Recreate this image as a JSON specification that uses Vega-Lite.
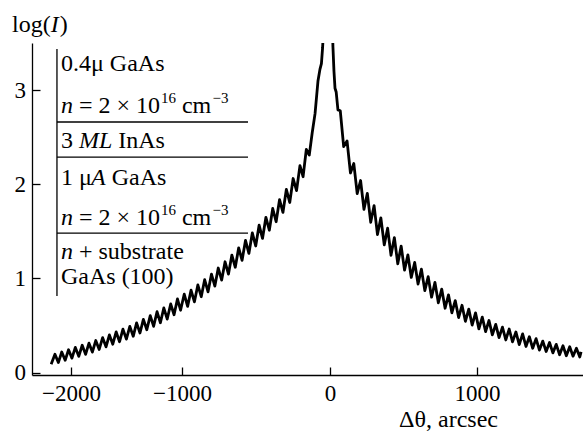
{
  "$schema": "https://vega.github.io/schema/vega-lite/v6.json",
  "width": 551,
  "height": 332,
  "autosize": {"type": "none"},
  "padding": {"left": 32, "top": 43, "right": 0, "bottom": 58},
  "background": "white",
  "config": {
    "view": {"stroke": null},
    "axis": {
      "grid": false,
      "domainColor": "black",
      "domainWidth": 1.3,
      "tickColor": "black",
      "tickWidth": 1.3,
      "labelColor": "black",
      "labelFont": "Liberation Serif",
      "labelFontSize": 23,
      "titleColor": "black",
      "titleFont": "Liberation Serif",
      "titleFontSize": 24,
      "titleFontWeight": "normal"
    },
    "text": {"font": "Liberation Serif", "fontSize": 24, "color": "black", "align": "left", "baseline": "alphabetic"}
  },
  "layer": [
    {
      "data": {"values": [
        {"x": -2178, "y": 0.09}, {"x": -2144, "y": 0.195}, {"x": -2113.5, "y": 0.107}, {"x": -2083, "y": 0.219},
        {"x": -2052.5, "y": 0.131}, {"x": -2022, "y": 0.243}, {"x": -1991.5, "y": 0.154}, {"x": -1961, "y": 0.268},
        {"x": -1930, "y": 0.173}, {"x": -1899, "y": 0.291}, {"x": -1868.5, "y": 0.194}, {"x": -1838, "y": 0.313},
        {"x": -1807.5, "y": 0.218}, {"x": -1777, "y": 0.341}, {"x": -1746, "y": 0.246}, {"x": -1715, "y": 0.371},
        {"x": -1684.5, "y": 0.274}, {"x": -1654, "y": 0.401}, {"x": -1623.5, "y": 0.302}, {"x": -1593, "y": 0.432},
        {"x": -1562.5, "y": 0.328}, {"x": -1532, "y": 0.461}, {"x": -1501, "y": 0.356}, {"x": -1470, "y": 0.491},
        {"x": -1439.5, "y": 0.386}, {"x": -1409, "y": 0.529}, {"x": -1378.5, "y": 0.421}, {"x": -1348, "y": 0.566},
        {"x": -1317, "y": 0.456}, {"x": -1286, "y": 0.605}, {"x": -1255.5, "y": 0.492}, {"x": -1225, "y": 0.647},
        {"x": -1194.5, "y": 0.53}, {"x": -1164, "y": 0.687}, {"x": -1133, "y": 0.569}, {"x": -1102, "y": 0.729},
        {"x": -1071.5, "y": 0.615}, {"x": -1041, "y": 0.782}, {"x": -1013, "y": 0.663}, {"x": -985, "y": 0.833},
        {"x": -962, "y": 0.704}, {"x": -939, "y": 0.875}, {"x": -916, "y": 0.752}, {"x": -893, "y": 0.931},
        {"x": -870, "y": 0.806}, {"x": -847, "y": 0.987}, {"x": -824, "y": 0.858}, {"x": -801, "y": 1.045},
        {"x": -778, "y": 0.919}, {"x": -755, "y": 1.111}, {"x": -732, "y": 0.983}, {"x": -709, "y": 1.177},
        {"x": -686, "y": 1.047}, {"x": -663, "y": 1.248}, {"x": -640, "y": 1.119}, {"x": -617, "y": 1.325},
        {"x": -594, "y": 1.193}, {"x": -571, "y": 1.404}, {"x": -548, "y": 1.266}, {"x": -525, "y": 1.483},
        {"x": -502, "y": 1.345}, {"x": -479, "y": 1.566}, {"x": -456, "y": 1.425}, {"x": -433, "y": 1.649},
        {"x": -410, "y": 1.512}, {"x": -387, "y": 1.743}, {"x": -364, "y": 1.602}, {"x": -341, "y": 1.836},
        {"x": -318, "y": 1.701}, {"x": -295, "y": 1.945}, {"x": -272, "y": 1.807}, {"x": -249, "y": 2.061},
        {"x": -226, "y": 1.932}, {"x": -203, "y": 2.198}, {"x": -182, "y": 2.08}, {"x": -160, "y": 2.37},
        {"x": -140, "y": 2.31}, {"x": -120, "y": 2.55}, {"x": -101, "y": 2.75}, {"x": -81, "y": 3.10},
        {"x": -68, "y": 3.22}, {"x": -58, "y": 3.28}, {"x": -50, "y": 3.45}, {"x": -44, "y": 3.64},
        {"x": -14, "y": 4.6}, {"x": 14, "y": 3.8}, {"x": 20, "y": 3.46}, {"x": 27, "y": 3.2},
        {"x": 34, "y": 3.02}, {"x": 42, "y": 2.98}, {"x": 54, "y": 2.79}, {"x": 70, "y": 2.78},
        {"x": 93, "y": 2.40}, {"x": 116, "y": 2.46}, {"x": 139, "y": 2.12}, {"x": 162, "y": 2.22},
        {"x": 185, "y": 1.90}, {"x": 208, "y": 2.04}, {"x": 231, "y": 1.733}, {"x": 254, "y": 1.904},
        {"x": 277, "y": 1.596}, {"x": 300, "y": 1.774}, {"x": 323, "y": 1.466}, {"x": 346, "y": 1.644},
        {"x": 369, "y": 1.356}, {"x": 392, "y": 1.534}, {"x": 415, "y": 1.246}, {"x": 438, "y": 1.434},
        {"x": 461, "y": 1.156}, {"x": 484, "y": 1.344}, {"x": 507, "y": 1.089}, {"x": 530, "y": 1.25},
        {"x": 553, "y": 1.011}, {"x": 576, "y": 1.17}, {"x": 599, "y": 0.941}, {"x": 622, "y": 1.099},
        {"x": 645, "y": 0.871}, {"x": 668, "y": 1.019}, {"x": 691, "y": 0.801}, {"x": 714, "y": 0.958},
        {"x": 737, "y": 0.742}, {"x": 760, "y": 0.887}, {"x": 783, "y": 0.684}, {"x": 806, "y": 0.826},
        {"x": 829, "y": 0.635}, {"x": 852, "y": 0.765}, {"x": 875, "y": 0.585}, {"x": 898, "y": 0.715},
        {"x": 921, "y": 0.545}, {"x": 944, "y": 0.675}, {"x": 967, "y": 0.505}, {"x": 990, "y": 0.635},
        {"x": 1013, "y": 0.465}, {"x": 1036, "y": 0.589}, {"x": 1059, "y": 0.436}, {"x": 1082, "y": 0.554},
        {"x": 1105, "y": 0.401}, {"x": 1128, "y": 0.513}, {"x": 1151, "y": 0.372}, {"x": 1174, "y": 0.483},
        {"x": 1197, "y": 0.347}, {"x": 1220, "y": 0.463}, {"x": 1243, "y": 0.327}, {"x": 1266, "y": 0.432},
        {"x": 1289, "y": 0.298}, {"x": 1312, "y": 0.412}, {"x": 1335, "y": 0.278}, {"x": 1358, "y": 0.381},
        {"x": 1381, "y": 0.259}, {"x": 1404, "y": 0.361}, {"x": 1427, "y": 0.239}, {"x": 1450, "y": 0.335},
        {"x": 1473, "y": 0.225}, {"x": 1496, "y": 0.32}, {"x": 1519, "y": 0.21}, {"x": 1542, "y": 0.30},
        {"x": 1565, "y": 0.19}, {"x": 1588, "y": 0.285}, {"x": 1611, "y": 0.18}, {"x": 1634, "y": 0.275},
        {"x": 1657, "y": 0.175}, {"x": 1680, "y": 0.259}, {"x": 1703, "y": 0.166}, {"x": 1712, "y": 0.22}
      ]},
      "mark": {"type": "line", "color": "black", "strokeWidth": 2.8, "clip": true, "strokeJoin": "round"},
      "encoding": {
        "x": {
          "field": "x", "type": "quantitative",
          "scale": {"type": "linear", "domain": [-2350, -2000, -1000, 0, 1000, 1725], "range": [0, 39, 150, 298, 445, 551], "nice": false, "zero": false},
          "axis": {"values": [-2000, -1000, 0, 1000], "format": "d", "tickSize": -8, "labelPadding": 15.4, "title": "Δθ, arcsec", "titleX": 416, "titleY": 51, "titleAlign": "center", "titleBaseline": "alphabetic", "titleAnchor": null, "labelFlush": false}
        },
        "y": {
          "field": "y", "type": "quantitative",
          "scale": {"domain": [-0.025, 3.5], "nice": false, "zero": false},
          "axis": {"values": [0, 1, 2, 3], "format": "d", "tickSize": -8, "labelPadding": 14.5, "title": null, "labelBaseline": "middle"}
        }
      }
    },
    {"data": {"values": [{}]}, "mark": {"type": "rule", "color": "black", "strokeWidth": 1.3},
     "encoding": {"x": {"datum": -2126, "type": "quantitative"}, "y": {"datum": 3.436, "type": "quantitative"}, "y2": {"datum": 0.814}}},
    {"data": {"values": [{}]}, "mark": {"type": "rule", "color": "black", "strokeWidth": 1.3},
     "encoding": {"x": {"datum": -2126, "type": "quantitative"}, "x2": {"datum": -554}, "y": {"datum": 2.661, "type": "quantitative"}}},
    {"data": {"values": [{}]}, "mark": {"type": "rule", "color": "black", "strokeWidth": 1.3},
     "encoding": {"x": {"datum": -2126, "type": "quantitative"}, "x2": {"datum": -554}, "y": {"datum": 2.289, "type": "quantitative"}}},
    {"data": {"values": [{}]}, "mark": {"type": "rule", "color": "black", "strokeWidth": 1.3},
     "encoding": {"x": {"datum": -2126, "type": "quantitative"}, "x2": {"datum": -554}, "y": {"datum": 1.482, "type": "quantitative"}}},

    {"data": {"values": [{}]}, "mark": {"type": "text", "text": "log("},
     "encoding": {"x": {"datum": -2529, "type": "quantitative"}, "y": {"datum": 3.616, "type": "quantitative"}}},
    {"data": {"values": [{}]}, "mark": {"type": "text", "text": "I", "fontStyle": "italic", "dx": 38.7},
     "encoding": {"x": {"datum": -2529, "type": "quantitative"}, "y": {"datum": 3.616, "type": "quantitative"}}},
    {"data": {"values": [{}]}, "mark": {"type": "text", "text": ")", "dx": 47.7},
     "encoding": {"x": {"datum": -2529, "type": "quantitative"}, "y": {"datum": 3.616, "type": "quantitative"}}},

    {"data": {"values": [{}]}, "mark": {"type": "text", "text": "0.4μ GaAs"},
     "encoding": {"x": {"datum": -2090, "type": "quantitative"}, "y": {"datum": 3.20, "type": "quantitative"}}},

    {"data": {"values": [{}]}, "mark": {"type": "text", "text": "n", "fontStyle": "italic"},
     "encoding": {"x": {"datum": -2090, "type": "quantitative"}, "y": {"datum": 2.756, "type": "quantitative"}}},
    {"data": {"values": [{}]}, "mark": {"type": "text", "text": "= 2 × 10", "dx": 18},
     "encoding": {"x": {"datum": -2090, "type": "quantitative"}, "y": {"datum": 2.756, "type": "quantitative"}}},
    {"data": {"values": [{}]}, "mark": {"type": "text", "text": "16", "fontSize": 15, "dx": 100, "dy": -10},
     "encoding": {"x": {"datum": -2090, "type": "quantitative"}, "y": {"datum": 2.756, "type": "quantitative"}}},
    {"data": {"values": [{}]}, "mark": {"type": "text", "text": "cm", "dx": 121},
     "encoding": {"x": {"datum": -2090, "type": "quantitative"}, "y": {"datum": 2.756, "type": "quantitative"}}},
    {"data": {"values": [{}]}, "mark": {"type": "text", "text": "−3", "fontSize": 15, "dx": 151.5, "dy": -10},
     "encoding": {"x": {"datum": -2090, "type": "quantitative"}, "y": {"datum": 2.756, "type": "quantitative"}}},

    {"data": {"values": [{}]}, "mark": {"type": "text", "text": "3"},
     "encoding": {"x": {"datum": -2090, "type": "quantitative"}, "y": {"datum": 2.385, "type": "quantitative"}}},
    {"data": {"values": [{}]}, "mark": {"type": "text", "text": "ML", "fontStyle": "italic", "dx": 18},
     "encoding": {"x": {"datum": -2090, "type": "quantitative"}, "y": {"datum": 2.385, "type": "quantitative"}}},
    {"data": {"values": [{}]}, "mark": {"type": "text", "text": "InAs", "dx": 57.3},
     "encoding": {"x": {"datum": -2090, "type": "quantitative"}, "y": {"datum": 2.385, "type": "quantitative"}}},

    {"data": {"values": [{}]}, "mark": {"type": "text", "text": "1 μ"},
     "encoding": {"x": {"datum": -2090, "type": "quantitative"}, "y": {"datum": 1.992, "type": "quantitative"}}},
    {"data": {"values": [{}]}, "mark": {"type": "text", "text": "A", "fontStyle": "italic", "dx": 30},
     "encoding": {"x": {"datum": -2090, "type": "quantitative"}, "y": {"datum": 1.992, "type": "quantitative"}}},
    {"data": {"values": [{}]}, "mark": {"type": "text", "text": "GaAs", "dx": 50.7},
     "encoding": {"x": {"datum": -2090, "type": "quantitative"}, "y": {"datum": 1.992, "type": "quantitative"}}},

    {"data": {"values": [{}]}, "mark": {"type": "text", "text": "n", "fontStyle": "italic"},
     "encoding": {"x": {"datum": -2090, "type": "quantitative"}, "y": {"datum": 1.567, "type": "quantitative"}}},
    {"data": {"values": [{}]}, "mark": {"type": "text", "text": "= 2 × 10", "dx": 18},
     "encoding": {"x": {"datum": -2090, "type": "quantitative"}, "y": {"datum": 1.567, "type": "quantitative"}}},
    {"data": {"values": [{}]}, "mark": {"type": "text", "text": "16", "fontSize": 15, "dx": 100, "dy": -10},
     "encoding": {"x": {"datum": -2090, "type": "quantitative"}, "y": {"datum": 1.567, "type": "quantitative"}}},
    {"data": {"values": [{}]}, "mark": {"type": "text", "text": "cm", "dx": 121},
     "encoding": {"x": {"datum": -2090, "type": "quantitative"}, "y": {"datum": 1.567, "type": "quantitative"}}},
    {"data": {"values": [{}]}, "mark": {"type": "text", "text": "−3", "fontSize": 15, "dx": 151.5, "dy": -10},
     "encoding": {"x": {"datum": -2090, "type": "quantitative"}, "y": {"datum": 1.567, "type": "quantitative"}}},

    {"data": {"values": [{}]}, "mark": {"type": "text", "text": "n", "fontStyle": "italic"},
     "encoding": {"x": {"datum": -2090, "type": "quantitative"}, "y": {"datum": 1.206, "type": "quantitative"}}},
    {"data": {"values": [{}]}, "mark": {"type": "text", "text": "+ substrate", "dx": 18},
     "encoding": {"x": {"datum": -2090, "type": "quantitative"}, "y": {"datum": 1.206, "type": "quantitative"}}},

    {"data": {"values": [{}]}, "mark": {"type": "text", "text": "GaAs (100)"},
     "encoding": {"x": {"datum": -2090, "type": "quantitative"}, "y": {"datum": 0.941, "type": "quantitative"}}}
  ]
}
